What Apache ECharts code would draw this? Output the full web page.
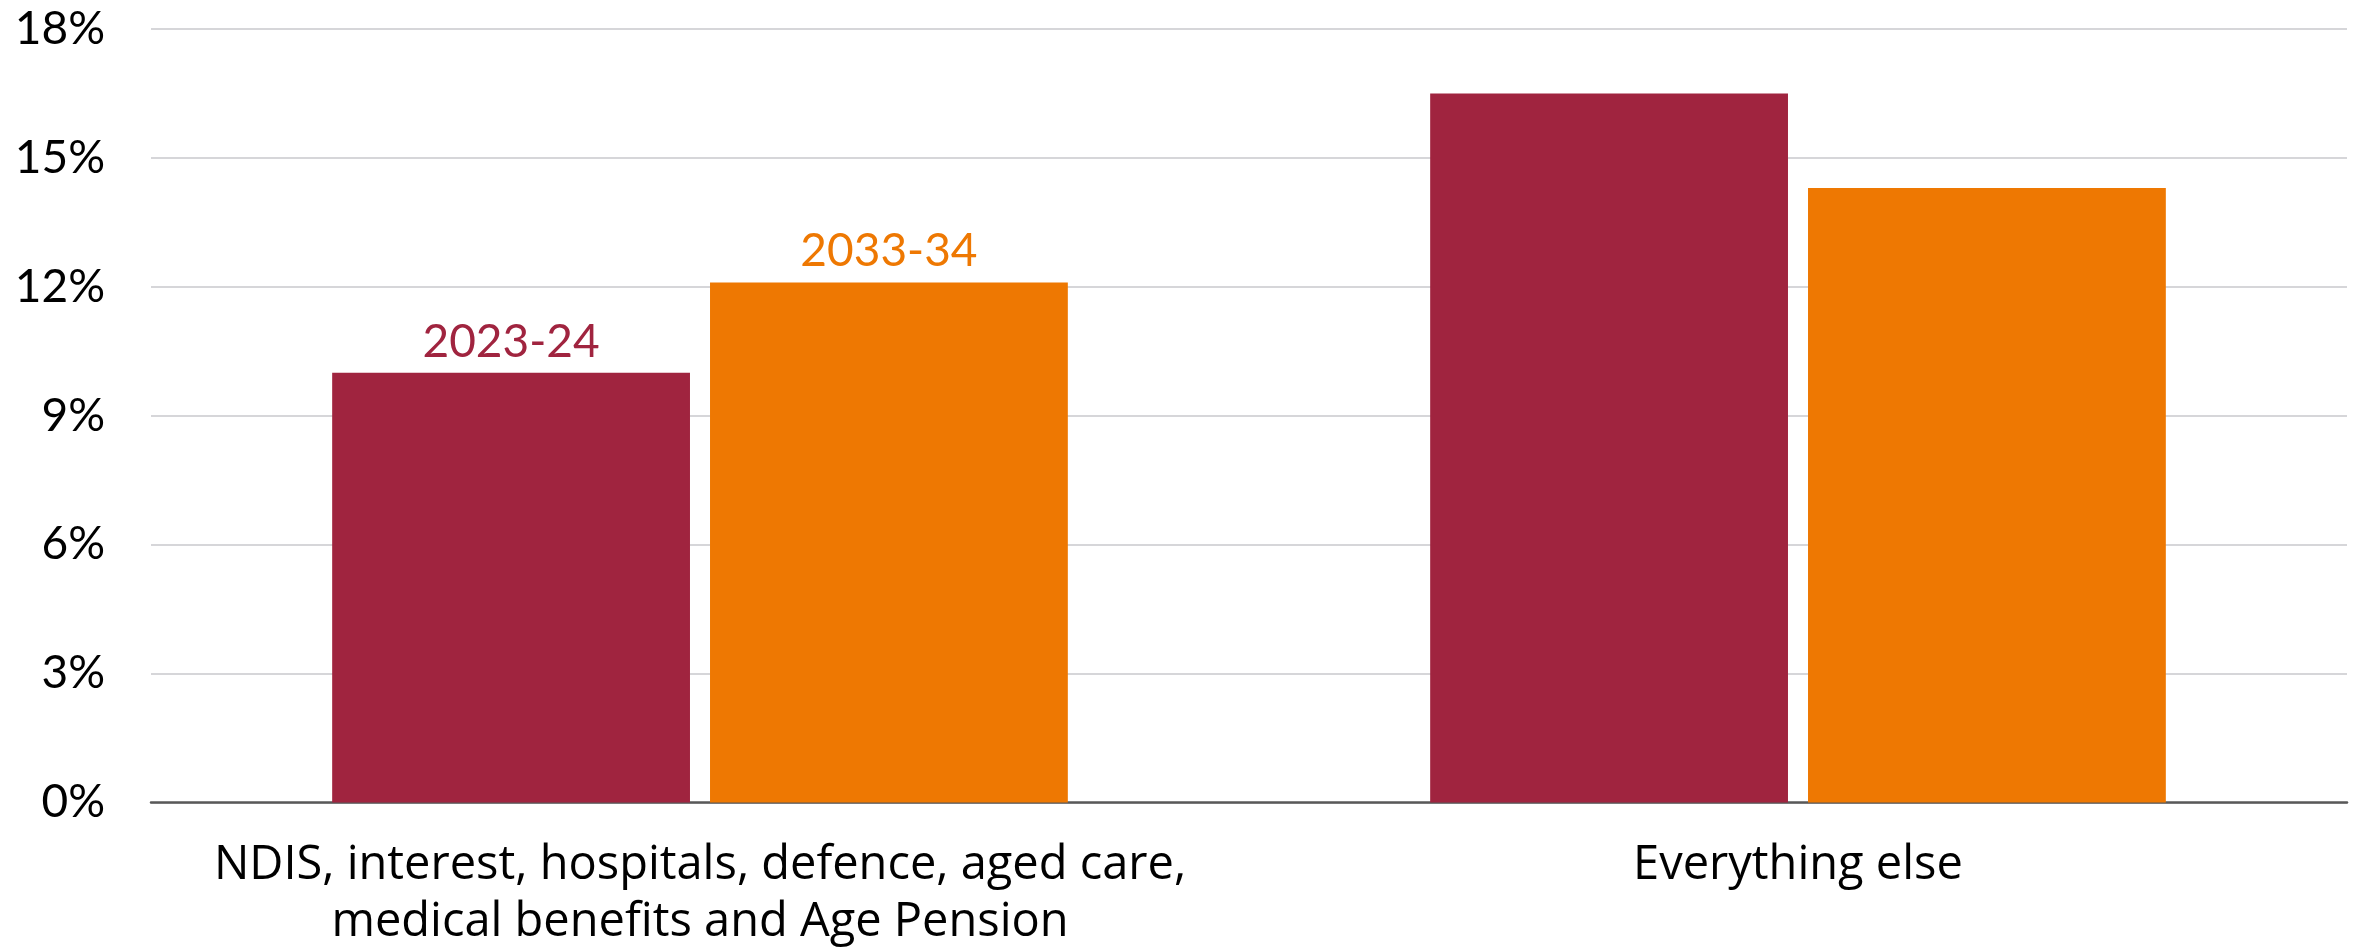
<!DOCTYPE html>
<html>
<head>
<meta charset="utf-8">
<script src="https://cdn.jsdelivr.net/npm/echarts@6/dist/echarts.min.js"></script>
<style>
  html, body { margin: 0; padding: 0; background: #ffffff; }
  #chart { width: 2359px; height: 949px; }
</style>
</head>
<body>
<div id="chart"></div>
<script>
// Spending groups (growth share, per cent)
const categories = [
  'NDIS, interest, hospitals, defence, aged care,\nmedical benefits and Age Pension',
  'Everything else'
];
const seriesNames = ['2023-24', '2033-34'];
const values2023 = [10.0, 16.5];
const values2033 = [12.1, 14.3];
const yTicks = { min: 0, max: 18, step: 3 };

const colors = ['#A0243F', '#EE7802'];
const fontFamily = 'Lato, "Open Sans", sans-serif';
const categoryFont = '"Open Sans", Lato, sans-serif';

function barSeries(name, data, color) {
  return {
    name: name,
    type: 'bar',
    data: data,
    barGap: '5.6%',
    barCategoryGap: '33%',
    itemStyle: { color: color },
    label: {
      show: true,
      position: 'top',
      distance: 8,
      color: color,
      fontFamily: fontFamily,
      fontSize: 46,
      formatter: p => (p.dataIndex === 0 ? p.seriesName : '')
    }
  };
}

const chart = echarts.init(document.getElementById('chart'), null, { renderer: 'canvas' });
chart.setOption({
  animation: false,
  backgroundColor: '#ffffff',
  grid: {
    left: 151, right: 12, top: 29, bottom: 146.5,
    containLabel: false,
    outerBoundsMode: 'none'
  },
  xAxis: {
    type: 'category',
    data: categories,
    axisTick: { show: false },
    axisLine: { lineStyle: { color: '#595959', width: 2.5 } },
    axisLabel: {
      color: '#000000',
      fontFamily: categoryFont,
      fontSize: 47,
      lineHeight: 57,
      margin: 35,
      interval: 0
    }
  },
  yAxis: {
    type: 'value',
    min: yTicks.min,
    max: yTicks.max,
    interval: yTicks.step,
    axisLine: { show: false },
    axisTick: { show: false },
    splitLine: { lineStyle: { color: '#d6d6d9', width: 2 } },
    axisLabel: {
      color: '#000000',
      fontFamily: fontFamily,
      fontSize: 46,
      margin: 46,
      formatter: '{value}%'
    }
  },
  series: [
    barSeries(seriesNames[0], values2023, colors[0]),
    barSeries(seriesNames[1], values2033, colors[1])
  ]
});
</script>
</body>
</html>
